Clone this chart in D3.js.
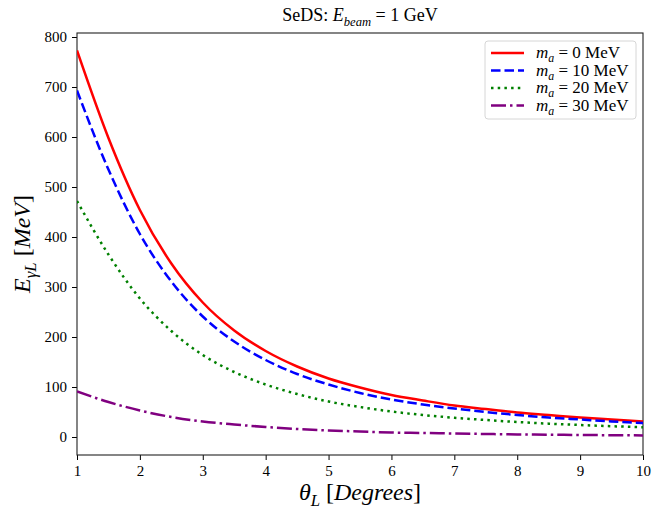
<!DOCTYPE html>
<html>
<head>
<meta charset="utf-8">
<script src="https://cdn.jsdelivr.net/npm/d3@7"></script>
<style>
  body { margin: 0; background: #fff; }
  text { font-family: "Liberation Serif", "Times New Roman", serif; }
</style>
</head>
<body>
<svg id="drawing_region"></svg>
<script>
// angle grid (degrees)
const theta = [1, 1.5, 2, 2.5, 3, 3.5, 4, 4.5, 5, 5.5, 6, 6.5, 7, 7.5, 8, 8.5, 9, 9.5, 10];

// photon energy in MeV
const e_m0  = [773, 598, 454, 347, 269, 213, 172, 141, 117, 99, 84, 73, 63, 56, 49, 44, 39, 35, 31];
const e_m10 = [693, 535, 406, 311, 241, 191, 154, 126, 105, 88, 75, 65, 57, 50, 44, 39, 35, 31, 28];
const e_m20 = [472, 365, 277, 212, 164, 130, 105, 86, 71, 60, 51, 44, 38.5, 34, 30, 26.7, 24, 21.6, 19.5];
const e_m30 = [91, 70, 53, 40, 31, 25, 20, 16, 13, 11, 9, 8, 7, 6, 5.2, 4.6, 4, 3.6, 3.2];

const masses = ['0', '10', '20', '30'];
const xTicks = [1, 2, 3, 4, 5, 6, 7, 8, 9, 10];
const yTicks = [0, 100, 200, 300, 400, 500, 600, 700, 800];

const series = [
    { mass: masses[0], values: e_m0,  color: 'red',    dash: null },
    { mass: masses[1], values: e_m10, color: 'blue',   dash: '9.5,4' },
    { mass: masses[2], values: e_m20, color: 'green',  dash: '2.5,4.2' },
    { mass: masses[3], values: e_m30, color: 'purple', dash: '15,4,2.5,4' }
];

const config = {
    width: 652,
    height: 510,
    margin: { top: 33, right: 9, bottom: 55, left: 77 }
};

const svg = d3.select('#drawing_region')
    .attr('width', config.width)
    .attr('height', config.height);

const innerW = config.width - config.margin.left - config.margin.right;
const innerH = config.height - config.margin.top - config.margin.bottom;

const chart = svg.append('g')
    .attr('transform', `translate(${config.margin.left}, ${config.margin.top})`);

const xScale = d3.scaleLinear().domain([1, 10]).range([0, innerW]);
const yScale = d3.scaleLinear().domain([-36, 808]).range([innerH, 0]);

// write a small piece of math: parts = [text, italic?, subscript?]
function mathText(sel, parts, size) {
    let shifted = false;
    parts.forEach(p => {
        const ts = sel.append('tspan').text(p[0]);
        if (p[1]) ts.attr('font-style', 'italic');
        if (p[2] && !shifted) { ts.attr('dy', size * 0.25).attr('font-size', size * 0.7); shifted = true; }
        else if (p[2]) { ts.attr('font-size', size * 0.7); }
        else if (shifted) { ts.attr('dy', -size * 0.25); shifted = false; }
    });
}

// axes
const xAxis = chart.append('g')
    .attr('transform', `translate(0, ${innerH})`)
    .call(d3.axisBottom(xScale).tickValues(xTicks).tickSize(5).tickPadding(5).tickFormat(d3.format('d')));
const yAxis = chart.append('g')
    .call(d3.axisLeft(yScale).tickValues(yTicks).tickSize(5).tickPadding(5).tickFormat(d3.format('d')));

[xAxis, yAxis].forEach(a => {
    a.selectAll('text').attr('font-size', 15).attr('fill', '#000')
        .style('font-family', '"Liberation Serif", serif');
    a.selectAll('.tick line').attr('stroke', '#000');
    a.select('.domain').remove();
});

// frame
chart.append('rect')
    .attr('width', innerW)
    .attr('height', innerH)
    .attr('fill', 'none')
    .attr('stroke', '#222')
    .attr('stroke-width', 1.1);

chart.append('clipPath').attr('id', 'clip')
    .append('rect').attr('width', innerW).attr('height', innerH);

const line = d3.line()
    .x((d, i) => xScale(theta[i]))
    .y(d => yScale(d))
    .curve(d3.curveMonotoneX);

chart.append('g').attr('clip-path', 'url(#clip)')
    .selectAll('path')
    .data(series)
    .enter()
    .append('path')
    .attr('d', d => line(d.values))
    .attr('fill', 'none')
    .attr('stroke', d => d.color)
    .attr('stroke-width', 2.5)
    .attr('stroke-dasharray', d => d.dash);

// legend
const legend = chart.append('g').attr('transform', `translate(${innerW - 158}, 8)`);
legend.append('rect')
    .attr('width', 151)
    .attr('height', 78)
    .attr('rx', 3)
    .attr('fill', '#fff')
    .attr('fill-opacity', 0.8)
    .attr('stroke', '#d6d6d6');

series.forEach((s, i) => {
    const row = legend.append('g').attr('transform', `translate(0, ${12 + i * 17.5})`);
    row.append('line')
        .attr('x1', 6).attr('x2', 39)
        .attr('stroke', s.color)
        .attr('stroke-width', 2.5)
        .attr('stroke-dasharray', s.dash);
    const t = row.append('text')
        .attr('x', 51).attr('y', 5)
        .attr('font-size', 17);
    mathText(t, [['m', true], ['a', true, true], [' = ' + s.mass + ' MeV']], 17);
});

// title
const title = svg.append('text')
    .attr('x', config.margin.left + innerW / 2)
    .attr('y', 21)
    .attr('text-anchor', 'middle')
    .attr('font-size', 18);
mathText(title, [['SeDS: '], ['E', true], ['beam', true, true], [' = 1 GeV']], 18);

// x label
const xl = svg.append('text')
    .attr('x', config.margin.left + innerW / 2)
    .attr('y', 500)
    .attr('text-anchor', 'middle')
    .attr('font-size', 24);
mathText(xl, [['θ', true], ['L', true, true], [' ['], ['Degrees', true], [']']], 24);

// y label
const yl = svg.append('text')
    .attr('transform', `translate(30, ${config.margin.top + innerH / 2}) rotate(-90)`)
    .attr('text-anchor', 'middle')
    .attr('font-size', 24);
mathText(yl, [['E', true], ['γL', true, true], [' ['], ['MeV', true], [']']], 24);
</script>
</body>
</html>
